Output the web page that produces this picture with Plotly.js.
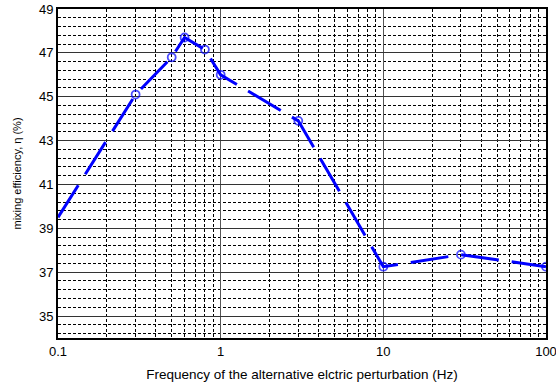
<!DOCTYPE html>
<html>
<head>
<meta charset="utf-8">
<script src="https://cdn.plot.ly/plotly-3.0.1.min.js"></script>
<style>html,body{margin:0;padding:0;background:#fff;}#chart{width:556px;height:389px;}</style>
</head>
<body>
<div id="chart"></div>
<script>
var frequency = [0.1, 0.3, 0.5, 0.6, 0.8, 1, 3, 10, 30, 100];
var efficiency = [39.5, 45.1, 46.8, 47.7, 47.15, 46.0, 43.9, 37.25, 37.8, 37.25];
var markerSizes = [0, 8, 8, 8, 8, 8, 8, 8, 8, 8];

var trace = {
  x: frequency,
  y: efficiency,
  type: 'scatter',
  mode: 'lines+markers',
  line: {color: '#0000ff', width: 3, dash: '38px,13px'},
  marker: {symbol: 'circle-open', size: markerSizes, color: '#0000ff', line: {width: 1.8, color: '#0000ff'}},
  cliponaxis: true,
  showlegend: false
};

var layout = {
  width: 556, height: 389,
  margin: {l: 58, r: 10, t: 9, b: 51},
  paper_bgcolor: '#fff', plot_bgcolor: '#fff',
  font: {family: 'Liberation Sans, Arial, sans-serif', color: '#000'},
  xaxis: {
    type: 'log', range: [-1, 2], dtick: 1,
    showline: true, linecolor: '#000', linewidth: 2, mirror: true,
    showgrid: true, gridcolor: '#555', gridwidth: 1,
    ticks: '', zeroline: false,
    ticklabeloverflow: 'allow',
    tickfont: {size: 13},
    minor: {dtick: 'D1', showgrid: true, gridcolor: '#000', gridwidth: 1, griddash: '3px,2px', ticks: ''},
    title: {text: 'Frequency of the alternative elctric perturbation (Hz)', font: {size: 13.5}, standoff: 12}
  },
  yaxis: {
    range: [34, 49], tick0: 35, dtick: 2,
    showline: true, linecolor: '#000', linewidth: 2, mirror: true,
    showgrid: true, gridcolor: '#333', gridwidth: 1,
    ticks: '', zeroline: false,
    tickfont: {size: 13},
    minor: {tick0: 35, dtick: 0.4, showgrid: true, gridcolor: '#000', gridwidth: 1, griddash: '3px,2px', ticks: ''},
    title: {text: 'mixing efficiency, η (%)', font: {size: 11}, standoff: 15}
  }
};

Plotly.newPlot('chart', [trace], layout, {staticPlot: true, displayModeBar: false});
</script>
</body>
</html>
